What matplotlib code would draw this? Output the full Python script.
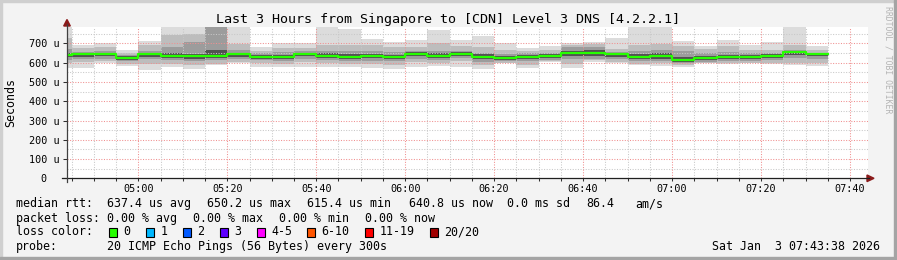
import matplotlib
matplotlib.use("Agg")
import matplotlib.pyplot as plt
from matplotlib.patches import Rectangle, Polygon
from matplotlib.lines import Line2D
import numpy as np

W, H = 897, 260
MONO = "DejaVu Sans Mono"

# ---------------- data ----------------
title = "Last 3 Hours from Singapore to [CDN] Level 3 DNS [4.2.2.1]"
# start of each 5-minute step, minutes after midnight (04:40 ... 07:30)
step_start = list(range(280, 455, 5))
# smoke bands (microseconds): outer max/min, then inner quantile bands, and the median
smoke_max = [800, 692, 701, 664, 713, 800, 800, 800, 800, 683, 704, 704, 800, 775, 723, 706, 718,
             770, 718, 740, 704, 675, 689, 701, 709, 730, 800, 800, 713, 689, 718, 692, 706, 800, 689]
smoke_h2 = [730, 677, 682, 652, 690, 742, 751, 795, 699, 662, 675, 677, 690, 690, 690, 680, 682,
            705, 685, 682, 668, 660, 668, 690, 695, 670, 690, 695, 685, 672, 685, 665, 668, 690, 665]
smoke_h3 = [670, 656, 659, 642, 659, 682, 708, 790, 664, 650, 655, 660, 660, 660, 660, 655, 662,
            662, 662, 652, 645, 648, 650, 680, 680, 655, 662, 665, 660, 650, 655, 650, 650, 665, 652]
smoke_h4 = [652, 650, 651, 634, 650, 648, 645, 664, 652, 642, 642, 652, 648, 645, 647, 642, 654,
            648, 656, 643, 636, 641, 644, 660, 665, 652, 645, 648, 630, 636, 642, 642, 645, 660, 650]
median = [640, 644, 644, 624, 644, 637, 633, 637, 644, 632, 632, 645, 637, 632, 635, 632, 645,
          637, 647, 632, 626, 632, 635, 649, 649, 644, 632, 635, 614, 626, 632, 632, 635, 654, 645]
smoke_l4 = [628, 632, 634, 615, 632, 625, 620, 625, 632, 622, 622, 635, 625, 620, 623, 620, 635,
            625, 637, 620, 616, 622, 625, 637, 635, 630, 620, 622, 604, 614, 620, 622, 625, 640, 635]
smoke_l3 = [615, 618, 621, 607, 621, 616, 607, 613, 620, 612, 610, 622, 612, 608, 610, 607, 622,
            612, 625, 605, 607, 608, 615, 622, 622, 618, 607, 610, 597, 605, 608, 610, 612, 625, 620]
smoke_l2 = [600, 604, 607, 595, 595, 595, 587, 595, 605, 598, 595, 605, 598, 595, 595, 590, 605,
            598, 608, 590, 600, 590, 610, 595, 612, 606, 595, 598, 590, 600, 598, 600, 600, 600, 598]
smoke_min = [572, 573, 597, 585, 562, 580, 567, 590, 597, 576, 580, 576, 580, 580, 571, 567, 580,
             585, 580, 567, 597, 574, 606, 574, 606, 597, 588, 585, 580, 597, 592, 597, 592, 588, 585]

y_ticks = [0, 100, 200, 300, 400, 500, 600, 700]
y_tick_labels = ["0  ", "100 u", "200 u", "300 u", "400 u", "500 u", "600 u", "700 u"]
x_major = [300, 320, 340, 360, 380, 400, 420, 440, 460]
x_major_labels = ["05:00", "05:20", "05:40", "06:00", "06:20", "06:40", "07:00", "07:20", "07:40"]

rtt_items = ["median rtt:", "637.4 us avg", "650.2 us max", "615.4 us min", "640.8 us now",
             "0.0 ms sd", "86.4", "am/s"]
loss_items = ["packet loss:", "0.00 % avg", "0.00 % max", "0.00 % min", "0.00 % now"]
loss_labels = ["0", "1", "2", "3", "4-5", "6-10", "11-19", "20/20"]
loss_colors = ["#26ff00", "#00b8ff", "#0059ff", "#5e00ff", "#ff00ff", "#ff5500", "#ff0000", "#a10000"]
probe_items = ["probe:", "20 ICMP Echo Pings (56 Bytes) every 300s"]
timestamp = "Sat Jan  3 07:43:38 2026"

# ---------------- layout helpers ----------------
def fx(x):
    return x / W

def fy(y):
    return 1 - y / H

fig = plt.figure(figsize=(W / 100, H / 100), dpi=100)
fig.patch.set_facecolor("#f3f3f3")

# frame
fig.patches.append(Rectangle((0, fy(2)), 1, 2 / H, transform=fig.transFigure, color="#cfcfcf", zorder=0))
fig.patches.append(Rectangle((0, 0), 2 / W, 1, transform=fig.transFigure, color="#cfcfcf", zorder=0))
fig.patches.append(Rectangle((0, 0), 1, 3 / H, transform=fig.transFigure, color="#a4a4a4", zorder=0))
fig.patches.append(Rectangle((fx(894), 0), 3 / W, 1, transform=fig.transFigure, color="#a4a4a4", zorder=0))

ax_l, ax_r, ax_t, ax_b = 67, 867.7, 27, 178.3
ax = fig.add_axes([fx(ax_l), fy(ax_b), (ax_r - ax_l) / W, (ax_b - ax_t) / H])
ax.set_facecolor("white")
ax.set_xlim(283.97, 463.97)
ax.set_ylim(0, (ax_b - ax_t) / 0.1926)

starts = np.array(step_start, dtype=float)
bands = [
    (smoke_min, smoke_max, "#dcdcdc"),
    (smoke_l2, smoke_h2, "#bdbdbd"),
    (smoke_l3, smoke_h3, "#9c9c9c"),
    (smoke_l4, smoke_h4, "#525252"),
]
for lo, hi, col in bands:
    lo = np.array(lo, float)
    hi = np.array(hi, float)
    ax.bar(starts, hi - lo, bottom=lo, width=5, align="edge", color=col, linewidth=0, zorder=2)

# grid (drawn over the smoke, as rrdtool does)
dash = (0, (1.0, 1.5))
for v in range(50, 800, 100):
    ax.axhline(v, color="#c8c8c8", lw=0.75, ls=dash, zorder=3)
for v in y_ticks[1:]:
    ax.axhline(v, color="#f09090", lw=0.75, ls=dash, zorder=3)
for t in range(285, 465, 5):
    if t in x_major:
        ax.axvline(t, color="#f09090", lw=0.75, ls=dash, zorder=3)
    else:
        ax.axvline(t, color="#c8c8c8", lw=0.75, ls=dash, zorder=3)

# median line
xs = list(step_start) + [step_start[-1] + 5]
ys = list(median) + [median[-1]]
ax.step(xs, ys, where="post", color="#26ff00", lw=1.6, zorder=5)

for s in ax.spines.values():
    s.set_visible(False)
ax.set_yticks(y_ticks)
ax.set_yticklabels(y_tick_labels, family=MONO, fontsize=7.3)
ax.set_xticks(x_major)
ax.set_xticklabels(x_major_labels, family=MONO, fontsize=7.3)
ax.set_xticks(list(range(285, 465, 5)), minor=True)
ax.tick_params(axis="y", which="major", length=3.0, width=0.75, pad=2.6, color="#303030")
ax.tick_params(axis="x", which="major", length=2.2, width=0.75, pad=2.2, color="#303030")
ax.tick_params(axis="x", which="minor", length=2.0, width=0.75, color="#303030")

# axes lines and arrows
fig.lines.append(Line2D([fx(62), fx(869)], [fy(ax_b), fy(ax_b)], transform=fig.transFigure,
                        color="#202020", lw=0.9))
fig.lines.append(Line2D([fx(ax_l), fx(ax_l)], [fy(182), fy(24)], transform=fig.transFigure,
                        color="#404040", lw=0.9))
fig.patches.append(Polygon([(fx(867), fy(175)), (fx(867), fy(181.6)), (fx(874), fy(178.3))],
                           closed=True, transform=fig.transFigure, color="#8b1a1a"))
fig.patches.append(Polygon([(fx(63.7), fy(26)), (fx(70.3), fy(26)), (fx(67), fy(19.5))],
                           closed=True, transform=fig.transFigure, color="#8b1a1a"))

# texts
fig.text(fx(448), fy(19.3), title, ha="center", va="center", family=MONO, fontsize=9.6)
fig.text(fx(11), fy(103), "Seconds", rotation=90, ha="center", va="center", family=MONO, fontsize=8.4)
fig.text(fx(888), fy(60), "RRDTOOL / TOBI OETIKER", rotation=270, ha="center", va="center",
         family=MONO, fontsize=5.9, color="#b4b4b4")

LF = 8.4
rtt_x = [16, 107.3, 207.3, 307.3, 409.3, 506.7, 586.7, 635]
for s, x in zip(rtt_items, rtt_x):
    fig.text(fx(x), fy(203.8), s, ha="left", va="center", family=MONO, fontsize=LF)
loss_x = [16, 107.3, 193.3, 279.3, 365]
for s, x in zip(loss_items, loss_x):
    fig.text(fx(x), fy(218.3), s, ha="left", va="center", family=MONO, fontsize=LF)
fig.text(fx(16), fy(231.8), "loss color:", ha="left", va="center", family=MONO, fontsize=LF)
box_x = [108.7, 145.7, 182.7, 219.7, 256.7, 307, 365, 430]
for lab, col, x in zip(loss_labels, loss_colors, box_x):
    fig.patches.append(Rectangle((fx(x), fy(236.5)), 8 / W, 8.5 / H, transform=fig.transFigure,
                                 facecolor=col, edgecolor="black", lw=0.8))
    fig.text(fx(x + 14.5), fy(231.8), lab, ha="left", va="center", family=MONO, fontsize=LF)
probe_x = [16, 107.3]
for s, x in zip(probe_items, probe_x):
    fig.text(fx(x), fy(246.2), s, ha="left", va="center", family=MONO, fontsize=LF)
fig.text(fx(880), fy(246.2), timestamp, ha="right", va="center", family=MONO, fontsize=LF)

fig.savefig("out.png", dpi=100, facecolor=fig.get_facecolor())
